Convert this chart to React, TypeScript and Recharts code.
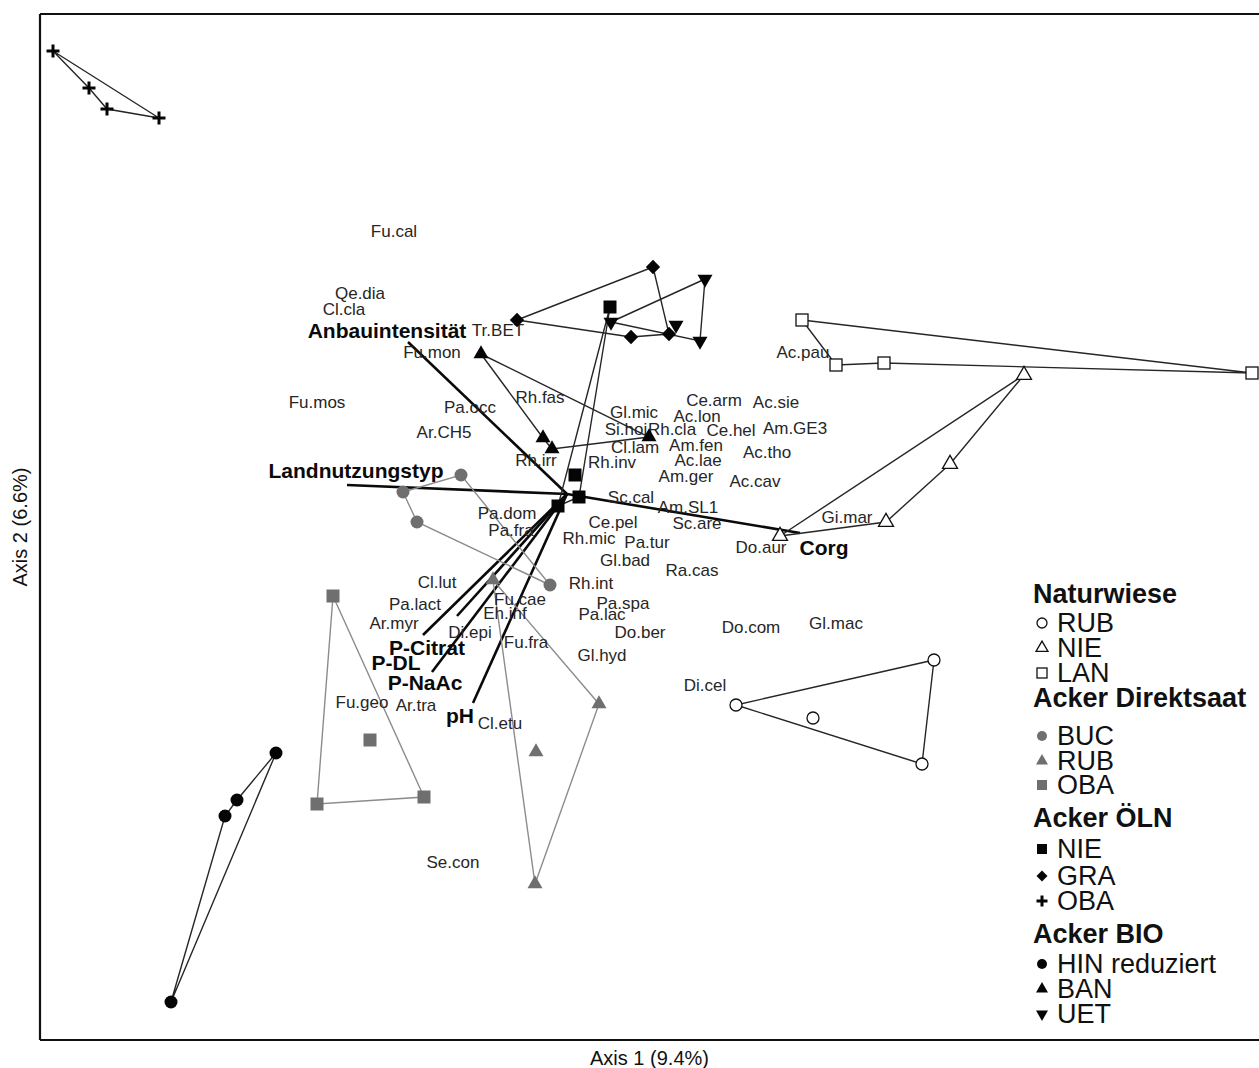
import React from "react";
import { ScatterChart, Scatter, XAxis, YAxis, ReferenceLine } from "recharts";

// ─── DATA (ordination scores) ─────────────────────────────────────────

type Pt = [number, number];

const X_DOMAIN: [number, number] = [-5.25, 6.94];
const Y_DOMAIN: [number, number] = [-5.48, 4.78];

// Naturwiese
const wieseRUB: Pt[] = [[1.71, -2.13], [3.69, -1.68], [3.57, -2.72], [2.48, -2.26]];
const wieseRUBHull = [0, 1, 2, 0];
const wieseNIE: Pt[] = [[2.15, -0.44], [4.59, 1.17], [3.85, 0.28], [3.21, -0.3]];
const wieseNIEHull = [0, 1, 2, 3, 0];
const wieseLAN: Pt[] = [[2.37, 1.72], [2.71, 1.27], [3.19, 1.29], [6.87, 1.19]];
const wieseLANHull = [0, 3, 2, 1, 0];

// Acker Direktsaat
const dsBUC: Pt[] = [[-1.62, 0.0], [-1.04, 0.17], [-1.48, -0.3], [-0.15, -0.93]];
const dsBUCHull = [0, 1, 3, 2, 0];
const dsRUB: Pt[] = [[-0.72, -0.88], [0.34, -2.12], [-0.3, -3.92], [-0.29, -2.6]];
const dsRUBHull = [0, 1, 2, 0];
const dsOBA: Pt[] = [[-2.32, -1.04], [-1.95, -2.48], [-1.41, -3.05], [-2.48, -3.12]];
const dsOBAHull = [0, 2, 3, 0];

// Acker ÖLN
const olnNIE: Pt[] = [[0.45, 1.85], [0.1, 0.17], [0.14, -0.05], [-0.07, -0.14]];
const olnNIEHull = [0, 2, 3, 0];
const olnGRA: Pt[] = [[-0.48, 1.72], [0.88, 2.25], [1.04, 1.58], [0.66, 1.55]];
const olnGRAHull = [0, 1, 2, 3, 0];
const olnOBA: Pt[] = [[-5.12, 4.41], [-4.76, 4.04], [-4.58, 3.83], [-4.06, 3.74]];
const olnOBAHull = [0, 3, 2, 1, 0];

// Acker BIO
const bioHIN: Pt[] = [[-2.89, -2.61], [-3.28, -3.08], [-3.4, -3.24], [-3.94, -5.1]];
const bioHINHull = [0, 3, 2, 1, 0];
const bioBAN: Pt[] = [[-0.84, 1.38], [-0.22, 0.54], [-0.13, 0.43], [0.84, 0.55]];
const bioBANHull = [0, 3, 2, 1, 0];
const bioUET: Pt[] = [[1.4, 2.13], [0.46, 1.7], [1.11, 1.67], [1.35, 1.51]];
const bioUETHull = [1, 0, 3, 1];

// environmental vectors
const vectorOrigin: Pt = [0.02, -0.02];
const vectorNames = ["Anbauintensität", "Landnutzungstyp", "Corg", "P-Citrat", "P-DL", "P-NaAc", "pH"];
const vectorEnds: Pt[] = [
  [-1.57, 1.5], [-2.18, 0.07], [2.35, -0.41], [-1.42, -1.43], [-1.08, -1.24], [-1.33, -1.8], [-0.92, -2.11],
];
const vectorLabelPos: Pt[] = [
  [-1.78, 1.62], [-2.09, 0.22], [2.59, -0.55], [-1.38, -1.55], [-1.69, -1.7], [-1.4, -1.9], [-1.05, -2.23],
];

// species scores
const speciesNames = [
  "Fu.cal", "Qe.dia", "Cl.cla", "Tr.BET", "Fu.mon", "Fu.mos", "Pa.occ", "Ar.CH5", "Rh.fas", "Rh.irr",
  "Rh.inv", "Gl.mic", "Si.hoi", "Rh.cla", "Cl.lam", "Ce.arm", "Ac.sie", "Ac.lon", "Ce.hel", "Am.GE3",
  "Am.fen", "Ac.tho", "Ac.lae", "Am.ger", "Ac.cav", "Ac.pau", "Sc.cal", "Am.SL1", "Sc.are", "Ce.pel",
  "Pa.dom", "Pa.fra", "Rh.mic", "Pa.tur", "Gl.bad", "Ra.cas", "Gi.mar", "Do.aur", "Rh.int", "Cl.lut",
  "Pa.lact", "Ar.myr", "Fu.cae", "Eh.inf", "Pa.spa", "Pa.lac", "Do.ber", "Di.epi", "Fu.fra", "Gl.hyd",
  "Do.com", "Gl.mac", "Di.cel", "Fu.geo", "Ar.tra", "Cl.etu", "Se.con",
];
const speciesScores: Pt[] = [
  [-1.71, 2.61], [-2.05, 1.99], [-2.21, 1.83], [-0.67, 1.62], [-1.33, 1.4], [-2.48, 0.9], [-0.95, 0.85], [-1.21, 0.6], [-0.25, 0.95], [-0.29, 0.32],
  [0.47, 0.3], [0.69, 0.8], [0.61, 0.63], [1.07, 0.63], [0.7, 0.45], [1.49, 0.92], [2.11, 0.9], [1.32, 0.76], [1.66, 0.62], [2.3, 0.64],
  [1.31, 0.47], [2.02, 0.4], [1.33, 0.32], [1.21, 0.16], [1.9, 0.11], [2.38, 1.4], [0.66, -0.05], [1.23, -0.15], [1.32, -0.31], [0.48, -0.3],
  [-0.58, -0.21], [-0.54, -0.38], [0.24, -0.46], [0.82, -0.5], [0.6, -0.68], [1.27, -0.78], [2.82, -0.25], [1.96, -0.55], [0.26, -0.91], [-1.28, -0.9],
  [-1.5, -1.12], [-1.71, -1.31], [-0.45, -1.07], [-0.6, -1.21], [0.58, -1.11], [0.37, -1.22], [0.75, -1.4], [-0.95, -1.4], [-0.39, -1.5], [0.37, -1.63],
  [1.86, -1.35], [2.71, -1.31], [1.4, -1.93], [-2.03, -2.1], [-1.49, -2.13], [-0.65, -2.31], [-1.12, -3.7],
];

// legend
const legendTitles = ["Naturwiese", "Acker Direktsaat", "Acker ÖLN", "Acker BIO"];
const legendLabels = [
  ["RUB", "NIE", "LAN"],
  ["BUC", "RUB", "OBA"],
  ["NIE", "GRA", "OBA"],
  ["HIN reduziert", "BAN", "UET"],
];

// ─── STYLE ───────────────────────────────────────────────────────────

type Kind = "circle" | "triangle" | "square" | "diamond" | "plus" | "triDown";
type Look = "open" | "grey" | "black";

const LOOKS: Record<Look, { fill: string; stroke: string; line: string }> = {
  open: { fill: "#fff", stroke: "#111", line: "#262626" },
  grey: { fill: "#6f6f6f", stroke: "none", line: "#8c8c8c" },
  black: { fill: "#050505", stroke: "none", line: "#262626" },
};

const GROUPS: { pts: Pt[]; hull: number[]; kind: Kind; look: Look }[][] = [
  [
    { pts: wieseRUB, hull: wieseRUBHull, kind: "circle", look: "open" },
    { pts: wieseNIE, hull: wieseNIEHull, kind: "triangle", look: "open" },
    { pts: wieseLAN, hull: wieseLANHull, kind: "square", look: "open" },
  ],
  [
    { pts: dsBUC, hull: dsBUCHull, kind: "circle", look: "grey" },
    { pts: dsRUB, hull: dsRUBHull, kind: "triangle", look: "grey" },
    { pts: dsOBA, hull: dsOBAHull, kind: "square", look: "grey" },
  ],
  [
    { pts: olnNIE, hull: olnNIEHull, kind: "square", look: "black" },
    { pts: olnGRA, hull: olnGRAHull, kind: "diamond", look: "black" },
    { pts: olnOBA, hull: olnOBAHull, kind: "plus", look: "black" },
  ],
  [
    { pts: bioHIN, hull: bioHINHull, kind: "circle", look: "black" },
    { pts: bioBAN, hull: bioBANHull, kind: "triangle", look: "black" },
    { pts: bioUET, hull: bioUETHull, kind: "triDown", look: "black" },
  ],
];

const FONT = "'Liberation Sans', Arial, sans-serif";

function Marker({ kind, look, cx, cy, s }: { kind: Kind; look: Look; cx: number; cy: number; s: number }) {
  const { fill, stroke } = LOOKS[look];
  const sw = look === "open" ? 1.3 : 0;
  if (kind === "circle") return <circle cx={cx} cy={cy} r={s / 2} fill={fill} stroke={stroke} strokeWidth={sw} />;
  if (kind === "square")
    return <rect x={cx - s / 2} y={cy - s / 2} width={s} height={s} fill={fill} stroke={stroke} strokeWidth={sw} />;
  if (kind === "diamond") {
    const h = s * 0.55;
    return <polygon points={`${cx},${cy - h} ${cx + h},${cy} ${cx},${cy + h} ${cx - h},${cy}`} fill={fill} />;
  }
  if (kind === "plus") {
    const h = s / 2;
    return (
      <g stroke="#050505" strokeWidth={3}>
        <line x1={cx - h} y1={cy} x2={cx + h} y2={cy} />
        <line x1={cx} y1={cy - h} x2={cx} y2={cy + h} />
      </g>
    );
  }
  const t = s * 0.866;
  const pts =
    kind === "triangle"
      ? `${cx},${cy - (t * 2) / 3} ${cx - s / 2},${cy + t / 3} ${cx + s / 2},${cy + t / 3}`
      : `${cx},${cy + (t * 2) / 3} ${cx - s / 2},${cy - t / 3} ${cx + s / 2},${cy - t / 3}`;
  return <polygon points={pts} fill={fill} stroke={stroke} strokeWidth={sw} strokeLinejoin="miter" />;
}

const markerSize = (kind: Kind, look: Look) => {
  if (kind === "triangle" || kind === "triDown") return 15;
  if (kind === "plus") return 13;
  if (look === "open") return 12;
  return 13;
};

// ─── LEGEND ──────────────────────────────────────────────────────────

const legendRows = [
  [33, 62, 87, 112],
  [137, 175, 200, 224],
  [257, 288, 315, 340],
  [373, 403, 428, 453],
];

function LegendBox() {
  return (
    <svg width={259} height={470} style={{ display: "block" }}>
      {legendTitles.map((title, si) => (
        <g key={title}>
          <text x={33} y={legendRows[si][0]} fontFamily={FONT} fontWeight="bold" fontSize={27} fill="#111">
            {title}
          </text>
          {legendLabels[si].map((lab, ii) => {
            const g = GROUPS[si][ii];
            const y = legendRows[si][ii + 1];
            const s = g.kind === "plus" ? 11 : g.kind === "triangle" || g.kind === "triDown" ? 12 : 10;
            return (
              <g key={lab + ii}>
                <Marker kind={g.kind} look={g.look} cx={42} cy={y - 9} s={s} />
                <text x={57} y={y} fontFamily={FONT} fontSize={27} fill="#111">
                  {lab}
                </text>
              </g>
            );
          })}
        </g>
      ))}
    </svg>
  );
}

// ─── COMPONENT ───────────────────────────────────────────────────────

export default function App() {
  const species = speciesNames.map((name, i) => ({ name, x: speciesScores[i][0], y: speciesScores[i][1] }));
  const vecLabels = vectorNames.map((name, i) => ({ name, x: vectorLabelPos[i][0], y: vectorLabelPos[i][1] }));
  const flat = GROUPS.flat();

  return (
    <div style={{ position: "relative", width: 1259, height: 1068, background: "#fff" }}>
      <style>{"body{margin:0}"}</style>
      <ScatterChart width={1259} height={1068} margin={{ top: 14, right: 0, bottom: 0, left: 0 }}>
        <XAxis
          type="number"
          dataKey="x"
          domain={X_DOMAIN}
          allowDataOverflow
          tick={false}
          tickLine={false}
          height={28}
          axisLine={{ stroke: "#111", strokeWidth: 2.2 }}
          label={{
            value: "Axis 1 (9.4%)",
            position: "insideBottom",
            offset: 3,
            style: { fontFamily: FONT, fontSize: 20, fill: "#111" },
          }}
        />
        <YAxis
          type="number"
          dataKey="y"
          domain={Y_DOMAIN}
          allowDataOverflow
          tick={false}
          tickLine={false}
          width={40}
          axisLine={{ stroke: "#111", strokeWidth: 2.2 }}
          label={{
            value: "Axis 2 (6.6%)",
            angle: -90,
            position: "insideLeft",
            offset: 20,
            style: { fontFamily: FONT, fontSize: 20, fill: "#111", textAnchor: "middle" },
          }}
        />
        <ReferenceLine y={Y_DOMAIN[1]} stroke="#111" strokeWidth={2.2} />

        {/* hulls */}
        {flat.map((g, gi) => (
          <Scatter
            key={"hull" + gi}
            data={g.hull.map((i) => ({ x: g.pts[i][0], y: g.pts[i][1] }))}
            line={{ stroke: LOOKS[g.look].line, strokeWidth: 1.4 }}
            lineType="joint"
            shape={() => <g />}
            isAnimationActive={false}
          />
        ))}

        {/* environmental vectors */}
        {vectorEnds.map((e, i) => (
          <ReferenceLine
            key={"vec" + i}
            segment={[
              { x: vectorOrigin[0], y: vectorOrigin[1] },
              { x: e[0], y: e[1] },
            ]}
            stroke="#0a0a0a"
            strokeWidth={2.6}
          />
        ))}

        {/* species labels */}
        <Scatter
          data={species}
          isAnimationActive={false}
          shape={(p: any) => (
            <text
              x={p.cx}
              y={p.cy}
              textAnchor="middle"
              dominantBaseline="central"
              fontFamily={FONT}
              fontSize={17}
              fill="#262626"
            >
              {p.payload.name}
            </text>
          )}
        />

        {/* sample markers */}
        {flat.map((g, gi) => (
          <Scatter
            key={"pts" + gi}
            data={g.pts.map(([x, y]) => ({ x, y }))}
            isAnimationActive={false}
            shape={(p: any) => <Marker kind={g.kind} look={g.look} cx={p.cx} cy={p.cy} s={markerSize(g.kind, g.look)} />}
          />
        ))}

        {/* vector labels */}
        <Scatter
          data={vecLabels}
          isAnimationActive={false}
          shape={(p: any) => (
            <text
              x={p.cx}
              y={p.cy}
              textAnchor="middle"
              dominantBaseline="central"
              fontFamily={FONT}
              fontWeight="bold"
              fontSize={21}
              fill="#0a0a0a"
            >
              {p.payload.name}
            </text>
          )}
        />
      </ScatterChart>
      <div style={{ position: "absolute", left: 1000, top: 570 }}>
        <LegendBox />
      </div>
    </div>
  );
}
